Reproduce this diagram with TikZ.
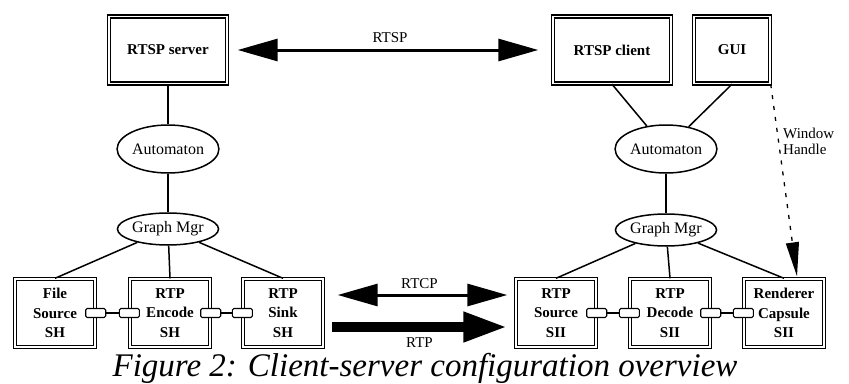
\documentclass[tikz,border=0pt]{standalone}
\usepackage{fontspec}
\setmainfont{Liberation Serif}
\usetikzlibrary{arrows,arrows.meta,shapes}
\tikzstyle{line} = [draw, line width=1.5pt]
\tikzstyle{sbox} = [rectangle, draw, line width=1.4pt, double, double distance=1.6pt, minimum width=80pt, minimum height=68pt, align=center, font=\fontsize{15}{19.5}\selectfont\bfseries]
\tikzstyle{tbox} = [sbox, minimum width=118pt, minimum height=67pt]
\tikzstyle{ctrl} = [ellipse, draw, line width=1.5pt, inner sep=0pt, minimum width=88pt, minimum height=48pt, font=\fontsize{16}{18}\selectfont]
\tikzstyle{mgr} = [ctrl, minimum width=85pt, minimum height=32pt]
\tikzstyle{port} = [rectangle, draw, fill=white, rounded corners=1.5pt, line width=1.1pt, minimum width=20pt, minimum height=9pt, inner sep=0pt]
\tikzstyle{lbl} = [font=\fontsize{15}{16}\selectfont, inner sep=1pt]
\tikzstyle{wire} = [draw, line width=3pt, {Triangle[length=40pt,width=22pt]}-{Triangle[length=40pt,width=22pt]}]
\tikzstyle{fat} = [draw, line width=10pt, -{Triangle[length=44pt,width=28pt]}]

\begin{document}
\begin{tikzpicture}[x=1pt, y=-1pt]
		\useasboundingbox (0,0) rectangle (849,383);
		
		% server side
		\node [tbox] at (168,50) (srv) {RTSP server};
		\node [ctrl, below of = srv, node distance = 99pt] (autoL) {Automaton};
		\node [mgr, below of = autoL, node distance = 80pt] (gmL) {Graph Mgr};
		\node [sbox, below of = gmL, node distance = 84pt, xshift=2pt] (enc) {RTP\\Encode\\SH};
		\node [sbox, left of = enc, node distance = 115pt] (fs) {File\\Source\\SH};
		\node [sbox, right of = enc, node distance = 113pt] (snk) {RTP\\Sink\\SH};
		
		% client side
		\node [tbox] at (612,50) (cli) {RTSP client};
		\node [tbox, right of = cli, node distance = 120pt, minimum width=76pt] (gui) {GUI};
		\node [ctrl, below of = cli, node distance = 99pt, xshift=54pt] (autoR) {Automaton};
		\node [mgr, below of = autoR, node distance = 81pt] (gmR) {Graph Mgr};
		\node [sbox, below of = gmR, node distance = 83pt, xshift=4pt] (dec) {RTP\\Decode\\SII};
		\node [sbox, left of = dec, node distance = 114pt] (src) {RTP\\Source\\SII};
		\node [sbox, right of = dec, node distance = 114pt] (ren) {Renderer\\Capsule\\SII};
		
		\path [line] (srv) -- (autoL);
		\path [line] (autoL) -- (gmL);
		\path [line] (gmL) -- (fs.north);
		\path [line] (gmL) -- (enc.north);
		\path [line] (gmL) -- (snk.north);
		
		\path [line] (cli.south) -- (autoR);
		\path [line] (gui.south) -- (autoR);
		\path [line] (autoR) -- (gmR);
		\path [line] (gmR) -- (src.north);
		\path [line] (gmR) -- (dec.north);
		\path [line] (gmR) -- (ren.north);
		
		% ports
		\node [port] at (fs.east) (p1) {};
		\node [port] at (enc.west) (p2) {};
		\node [port] at (enc.east) (p3) {};
		\node [port] at (snk.west) (p4) {};
		\node [port] at (src.east) (p5) {};
		\node [port] at (dec.west) (p6) {};
		\node [port] at (dec.east) (p7) {};
		\node [port] at (ren.west) (p8) {};
		\path [line] (p1) -- (p2);
		\path [line] (p3) -- (p4);
		\path [line] (p5) -- (p6);
		\path [line] (p7) -- (p8);
		
		% protocols
		\path [wire, shorten <=10pt, shorten >=14pt] (srv.east) -- (cli.west) node [lbl, midway, above=5pt] {RTSP};
		\path [wire, shorten <=14pt, shorten >=8pt] ([yshift=18pt]snk.east) -- ([yshift=18pt]src.west) node [lbl, midway, above=4pt] {RTCP};
		\path [fat, shorten <=8pt, shorten >=8pt] ([yshift=-14pt]snk.east) -- ([yshift=-14pt]src.west) node [lbl, midway, below=5pt] {RTP};
		
		\path [draw, line width=1.3pt, dash pattern=on 4pt off 7pt, -{Triangle[length=34pt,width=13pt]}] (gui.south east) -- ([xshift=13pt,yshift=2pt]ren.north) node [lbl, pos=0.3, right=3pt, align=left] {Window\\Handle};
		
		\node [font=\fontsize{33}{36}\selectfont\itshape, inner sep=0pt, anchor=base] at (425,376) (cap) {Figure 2: Client-server configuration overview};
\end{tikzpicture}
\end{document}
